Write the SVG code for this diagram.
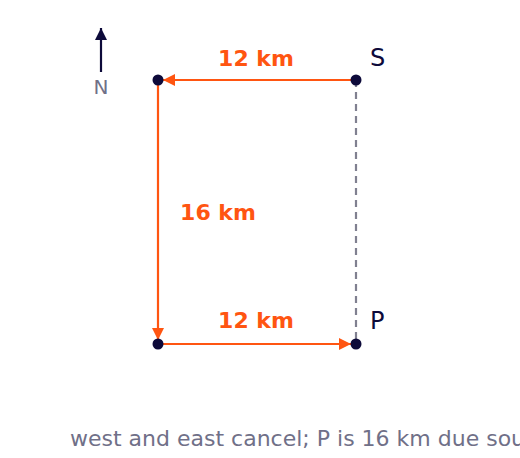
<svg xmlns="http://www.w3.org/2000/svg" width="520" height="458" viewBox="0 0 520 458">
<defs>
<marker id="ah" viewBox="0 0 10 10" refX="10" refY="5" markerWidth="12" markerHeight="12" markerUnits="userSpaceOnUse" orient="auto"><path d="M0,0 L10,5 L0,10 z" fill="#ff5511"/></marker>
<marker id="an" viewBox="0 0 10 10" refX="10" refY="5" markerWidth="12" markerHeight="12" markerUnits="userSpaceOnUse" orient="auto"><path d="M0,0 L10,5 L0,10 z" fill="#0d0a3a"/></marker>
</defs>
<style>
.leg{stroke:#ff5511;stroke-width:2.2;fill:none}
.lbl{font-family:"DejaVu Sans",sans-serif;font-weight:bold;font-size:22px;fill:#ff5511;text-anchor:middle}
.pt{fill:#0d0a3a}
.name{font-family:"DejaVu Sans",sans-serif;font-size:24px;fill:#0d0a3a}
</style>
<rect width="520" height="458" fill="#ffffff"/>
<g id="north">
<line x1="101" y1="72" x2="101" y2="28" stroke="#0d0a3a" stroke-width="2.2" marker-end="url(#an)"/>
<text x="101" y="94" font-family="DejaVu Sans,sans-serif" font-size="20" fill="#707088" text-anchor="middle">N</text>
</g>
<g id="connectors">
<line x1="356" y1="80" x2="356" y2="344" stroke="#808090" stroke-width="2.2" stroke-dasharray="7,5"/>
<line class="leg" x1="356" y1="80" x2="163" y2="80" marker-end="url(#ah)"/>
<line class="leg" x1="158" y1="80" x2="158" y2="340" marker-end="url(#ah)"/>
<line class="leg" x1="158" y1="344" x2="351" y2="344" marker-end="url(#ah)"/>
<text class="lbl" x="256" y="65.5">12 km</text>
<text class="lbl" x="218" y="220">16 km</text>
<text class="lbl" x="256" y="328">12 km</text>
</g>
<g id="S"><circle class="pt" cx="356" cy="80" r="5.5"/><text class="name" x="370" y="65.5">S</text></g>
<g id="W"><circle class="pt" cx="158" cy="80" r="5.5"/></g>
<g id="B"><circle class="pt" cx="158" cy="344" r="5.5"/></g>
<g id="P"><circle class="pt" cx="356" cy="344" r="5.5"/><text class="name" x="370" y="329">P</text></g>
<text x="70" y="446" font-family="DejaVu Sans,sans-serif" font-size="22" fill="#707088">west and east cancel; P is 16 km due south of S.</text>
</svg>
